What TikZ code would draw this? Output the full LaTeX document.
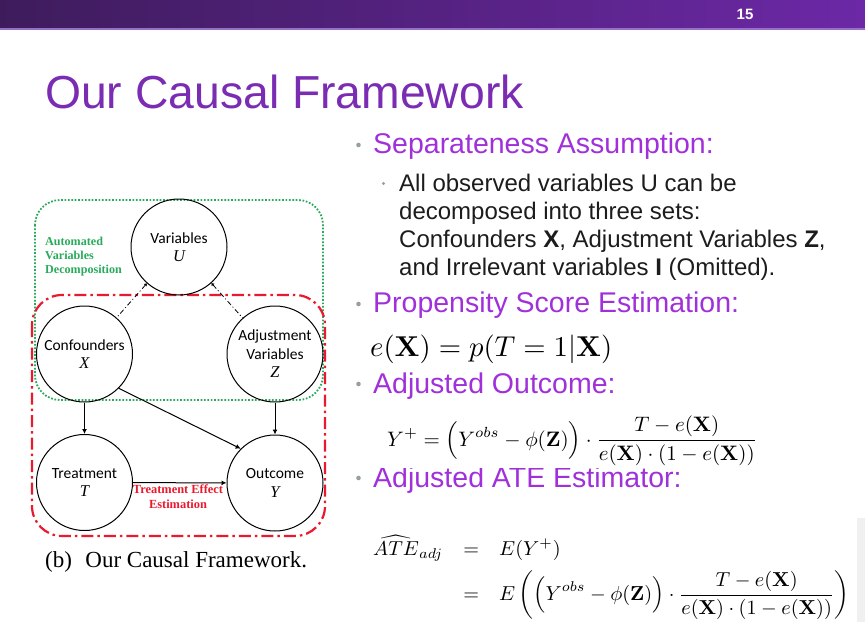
\documentclass[tikz,border=0pt]{standalone}
\usepackage[no-math]{fontspec}
\usepackage{amsmath}
\usepackage{graphicx}
\usetikzlibrary{arrows.meta}
\newfontfamily\arialf{Liberation Sans}
\newfontfamily\timesf{Liberation Serif}
\newfontfamily\calibf{Carlito}
\definecolor{barleft}{RGB}{62,28,92}
\definecolor{barright}{RGB}{108,40,166}
\definecolor{barline}{RGB}{150,112,200}
\definecolor{titlepurple}{RGB}{122,44,178}
\definecolor{hdrpurple}{RGB}{160,48,218}
\definecolor{bulletgray}{RGB}{150,160,160}
\definecolor{bodytext}{RGB}{28,28,28}
\definecolor{boxgreen}{RGB}{40,170,90}
\definecolor{boxred}{RGB}{235,25,45}
\newcommand{\mv}[1]{{\timesf\itshape\fontsize{16.5}{18.5}\selectfont #1}}
\begin{document}
\begin{tikzpicture}[x=1pt,y=-1pt,
  var/.style={circle, draw, line width=1pt, minimum size=96pt, inner sep=0pt, align=center,
    font=\calibf\fontsize{15.5}{18.5}\selectfont},
  arr/.style={line width=1pt, -{Latex[length=5pt,width=5pt]}},
  dd/.style={line width=0.8pt, dash pattern=on 5pt off 2.5pt on 1pt off 2.5pt, {Latex[length=2.5pt,width=4pt]}-},
  greenbox/.style={draw=boxgreen, line width=1.8pt, dash pattern=on 1.7pt off 1.7pt, rounded corners=25pt},
  redbox/.style={draw=boxred, line width=2.2pt, dash pattern=on 12pt off 4pt on 2.5pt off 4pt, rounded corners=30pt},
  hdr/.style={font=\arialf\fontsize{28.5}{34}\selectfont, text=hdrpurple, inner sep=0pt, anchor=base west},
  body/.style={font=\arialf\fontsize{24}{28}\selectfont, text=bodytext, inner sep=0pt, anchor=base west},
  glabel/.style={font=\timesf\bfseries\fontsize{12.1}{14}\selectfont, text=boxgreen, inner sep=0pt, anchor=base west},
  rlabel/.style={font=\timesf\bfseries\fontsize{12.4}{14}\selectfont, text=boxred, inner sep=0pt, anchor=base},
  bul/.style={fill=bulletgray}
]
\useasboundingbox (0,0) rectangle (865,630);
% top bar
\shade[left color=barleft, right color=barright] (0,0) rectangle (865,28);
\fill[barline] (0,28) rectangle (865,30);
\node[font=\arialf\bfseries\fontsize{15}{18}\selectfont, text=white, inner sep=0pt] (num) at (745,14) {15};
% title
\node[font=\arialf\fontsize{46.3}{52}\selectfont, text=titlepurple, inner sep=0pt, anchor=base west] (title) at (45,108) {Our Causal Framework};

% diagram boxes
\draw[greenbox] (35,200) rectangle (323,400);
\draw[redbox] (32,295) rectangle (325,536);
% nodes
\node[var] (U) at (179,247) {Variables\\ \mv{U}};
\node[var] (X) at (84.5,354) {Confounders\\ \mv{X}};
\node[var] (Z) at (275,354) {Adjustment\\ Variables\\ \mv{Z}};
\node[var] (T) at (84.5,482.5) {Treatment\\ \mv{T}};
\node[var] (Y) at (275,483) {Outcome\\ \mv{Y}};
% connectors
\draw[dd] (U) -- (X);
\draw[dd] (U) -- (Z);
\draw[arr] (X) -- (T);
\draw[arr] (Z) -- (Y);
\draw[arr] (X.-45) -- (Y.135);
\draw[arr] (T) -- (Y);
% labels
\node[glabel] (g1) at (45,245) {Automated};
\node[glabel] (g2) at (45,259.3) {Variables};
\node[glabel] (g3) at (45,273.5) {Decomposition};
\node[rlabel] (r1) at (178,493.5) {Treatment Effect};
\node[rlabel] (r2) at (178,508) {Estimation};
\node[font=\timesf\fontsize{23}{26}\selectfont, inner sep=0pt, anchor=base west] (cap) at (45,567) {(b)\,\, Our Causal Framework.};

% right column
\fill[bul] (358.5,145) circle (2.3pt);
\node[hdr] (h1) at (373,153.3) {Separateness Assumption:};
\fill[bul] (383.5,183.5) circle (1.7pt);
\node[body] (s1) at (399,191.7) {All observed variables U can be};
\node[body] (s2) at (399,219.5) {decomposed into three sets:};
\node[body] (s3) at (399,247.3) {Confounders {\bfseries X}, Adjustment Variables {\bfseries Z},};
\node[body] (s4) at (399,275) {and Irrelevant variables {\bfseries I} (Omitted).};

\fill[bul] (358.5,304) circle (2.3pt);
\node[hdr] (h2) at (373,312) {Propensity Score Estimation:};
\node[inner sep=0pt, anchor=base west] (f1) at (370,356) {\resizebox{242pt}{!}{$e(\mathbf{X}) = p(T=1|\mathbf{X})$}};

\fill[bul] (358.5,384) circle (2.3pt);
\node[hdr] (h3) at (373,393) {Adjusted Outcome:};

\fill[bul] (358.5,478) circle (2.3pt);
\node[hdr] (h4) at (373,487) {Adjusted ATE Estimator:};
\fill[white] (380,410) rectangle (780,467.5);
\node[inner sep=0pt, anchor=base west] (f2) at (387,446) {\resizebox{370pt}{!}{$\displaystyle Y^{+} = \Big(Y^{obs} - \phi(\mathbf{Z})\Big)\cdot\frac{T-e(\mathbf{X})}{e(\mathbf{X})\cdot(1-e(\mathbf{X}))}$}};

\fill[gray!12] (857,518) rectangle (865,622);
\node[inner sep=0pt, anchor=north west] (f3) at (373,535) {\resizebox{476pt}{!}{$\begin{array}{@{}r@{\hspace{10pt}}c@{\hspace{10pt}}l@{}}
\displaystyle\widehat{ATE}_{adj} & = & \displaystyle E(Y^{+})\\[4pt]
 & = & \displaystyle E\left(\Big(Y^{obs}-\phi(\mathbf{Z})\Big)\cdot\frac{T-e(\mathbf{X})}{e(\mathbf{X})\cdot(1-e(\mathbf{X}))}\right)
\end{array}$}};
\end{tikzpicture}
\end{document}
